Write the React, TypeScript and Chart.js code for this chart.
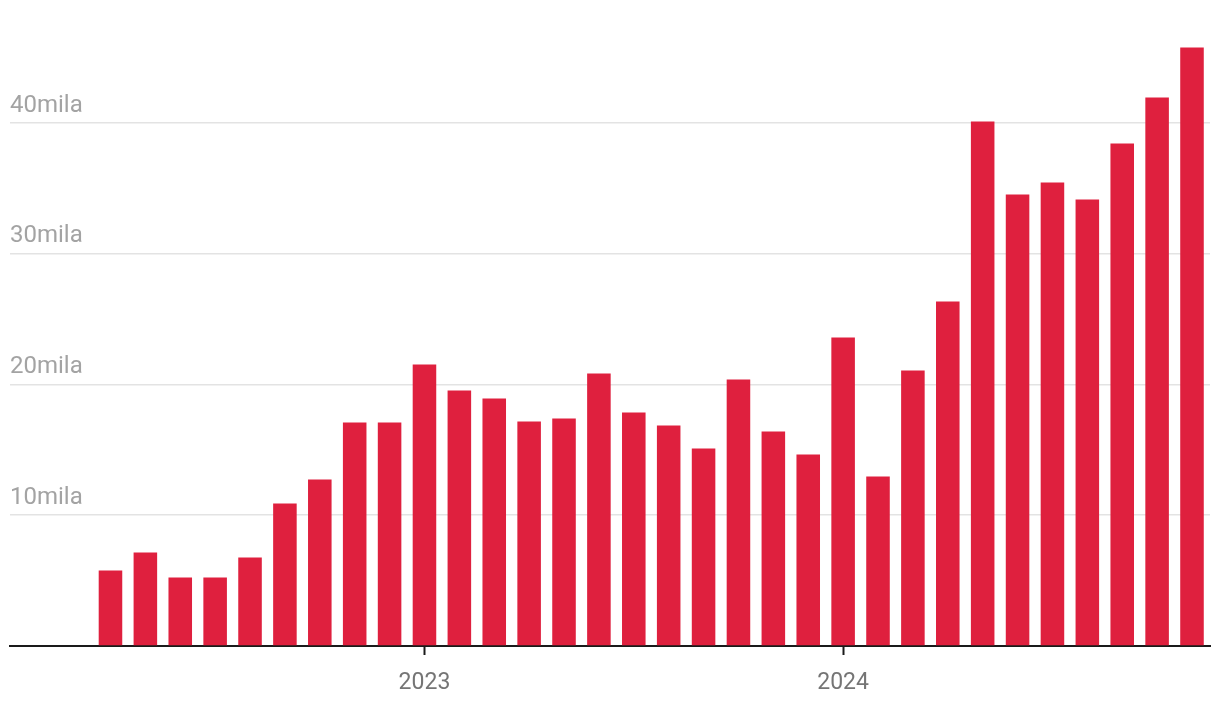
import React, { useEffect, useRef } from "react";
import { Chart, registerables } from "chart.js";

Chart.register(...registerables);

const months: string[] = [
  "2022-04", "2022-05", "2022-06", "2022-07", "2022-08", "2022-09", "2022-10", "2022-11", "2022-12",
  "2023-01", "2023-02", "2023-03", "2023-04", "2023-05", "2023-06", "2023-07", "2023-08", "2023-09",
  "2023-10", "2023-11", "2023-12",
  "2024-01", "2024-02", "2024-03", "2024-04", "2024-05", "2024-06", "2024-07", "2024-08", "2024-09",
  "2024-10", "2024-11",
];

const values: number[] = [
  5760, 7140, 5230, 5230, 6760, 10880, 12720, 17070, 17070,
  21510, 19520, 18910, 17150, 17380, 20820, 17840, 16840, 15090,
  20360, 16390, 14630,
  23570, 12950, 21050, 26320, 40080, 34500, 35410, 34120, 38400,
  41910, 45730,
];

const yTicks: number[] = [10000, 20000, 30000, 40000];
const yLabel = (v: number) => `${v / 1000}mila`;

export default function App() {
  const ref = useRef<HTMLCanvasElement | null>(null);

  useEffect(() => {
    if (!ref.current) return;
    const data = values.map((v, i) => ({ x: i, y: v }));
    const chart = new Chart(ref.current, {
      type: "bar",
      data: {
        datasets: [
          {
            data,
            backgroundColor: "#DF203E",
            borderWidth: 0,
            barPercentage: 0.675,
            categoryPercentage: 1,
          },
        ],
      },
      options: {
        animation: false,
        responsive: true,
        maintainAspectRatio: false,
        layout: { padding: { top: 36, left: 2, right: 2, bottom: 0 } },
        plugins: { legend: { display: false }, tooltip: { enabled: false } },
        scales: {
          x: {
            type: "linear",
            offset: false,
            min: -2.88,
            max: 31.516,
            afterFit: (s: any) => {
              s.height = 60;
            },
            afterBuildTicks: (s: any) => {
              s.ticks = months
                .map((m, i) => ({ m, i }))
                .filter((o) => o.m.endsWith("-01"))
                .map((o) => ({ value: o.i }));
            },
            ticks: {
              autoSkip: false,
              maxRotation: 0,
              padding: 14,
              color: "#757575",
              font: { family: "Roboto", size: 23 },
              callback: (v: any) => {
                const m = months[Number(v)];
                return m ? m.slice(0, 4) : "";
              },
            },
            grid: {
              offset: false,
              drawOnChartArea: false,
              drawTicks: true,
              tickLength: 9,
              tickColor: "#1a1a1a",
              tickWidth: 2,
            },
            border: { display: true, color: "#1a1a1a", width: 2 },
          },
          y: {
            min: 0,
            max: 46000,
            afterFit: (s: any) => {
              s.width = 0;
            },
            afterBuildTicks: (s: any) => {
              s.ticks = [0, ...yTicks].map((v) => ({ value: v }));
            },
            ticks: {
              mirror: true,
              padding: 0,
              labelOffset: -17,
              color: "#a3a3a3",
              font: { family: "Roboto", size: 24 },
              callback: (v: any) => (Number(v) === 0 ? "" : yLabel(Number(v))),
            },
            grid: {
              drawTicks: false,
              color: (ctx: any) => (ctx.tick && ctx.tick.value === 0 ? "rgba(0,0,0,0)" : "#e3e3e3"),
              lineWidth: 1.5,
            },
            border: { display: false },
          },
        },
      },
    });
    return () => chart.destroy();
  }, []);

  return (
    <div style={{ width: 1204, height: 698, position: "relative" }}>
      <canvas ref={ref} />
    </div>
  );
}
